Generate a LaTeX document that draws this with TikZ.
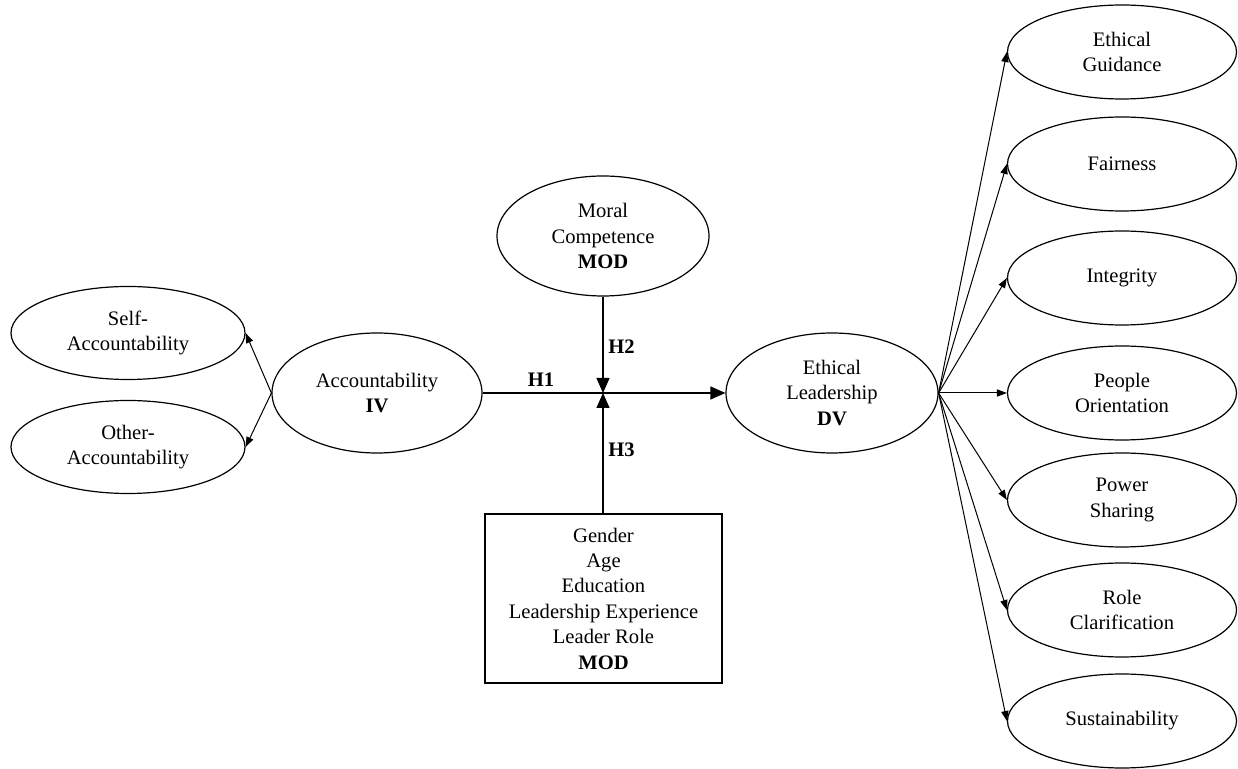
\documentclass[tikz,border=0pt]{standalone}
\usepackage{fontspec}
\setmainfont{Liberation Serif}
\usetikzlibrary{shapes.geometric,arrows.meta}
\begin{document}
\begin{tikzpicture}[x=0.5pt,y=-0.5pt,
  every node/.style={font=\fontsize{10.3}{12.7}\selectfont, align=center, inner sep=0pt},
  oval/.style={draw, ellipse, line width=0.6pt},
  leftoval/.style={oval, minimum width=117pt, minimum height=46.5pt},
  rightoval/.style={oval, minimum width=114.5pt, minimum height=47pt},
  bigoval/.style={oval, minimum width=106pt, minimum height=60pt},
  bigarr/.style={line width=0.6pt, -{Triangle[length=7.5pt,width=6.5pt]}},
  smallarr/.style={line width=0.5pt, -{Triangle[length=5pt,width=3.6pt]}},
  hlabel/.style={font=\fontsize{10.3}{12.7}\selectfont\bfseries}
]
\useasboundingbox (0,0) rectangle (1238,769);

\node[leftoval] (self) at (128,333) {Self-\\Accountability};
\node[leftoval] (other) at (128,447) {Other-\\Accountability};
\node[bigoval, minimum width=105pt] (acc) at (377,393) {Accountability\\\textbf{IV}};
\node[bigoval] (moral) at (603,236) {Moral\\Competence\\\textbf{MOD}};
\node[bigoval] (el) at (832,393) {Ethical\\Leadership\\\textbf{DV}};
\node[draw, line width=0.6pt, minimum width=118.5pt, minimum height=84.5pt] (box) at (603.5,598.5)
  {Gender\\Age\\Education\\Leadership Experience\\Leader Role\\\textbf{MOD}};

\node[rightoval] (eg) at (1122,52) {Ethical\\Guidance};
\node[rightoval] (fa) at (1122,164) {Fairness};
\node[rightoval] (in) at (1122,278) {Integrity};
\node[rightoval] (po) at (1122,393) {People\\Orientation};
\node[rightoval] (ps) at (1122,500) {Power\\Sharing};
\node[rightoval] (rc) at (1122,610) {Role\\Clarification};
\node[rightoval] (su) at (1122,721) {Sustainability};

\coordinate (j) at (603,393);

\draw[smallarr] (acc.west) -- (self.east);
\draw[smallarr] (acc.west) -- (other.east);

\draw[bigarr] (acc.east) -- (el.west);
\draw[bigarr] (moral.south) -- (j);
\draw[bigarr] (box.north -| j) -- (j);

\node[hlabel] (h1) at (541,380) {H1};
\node[hlabel, anchor=west] (h2) at (608,347) {H2};
\node[hlabel, anchor=west] (h3) at (608,450) {H3};

\foreach \t in {eg,fa,in,po,ps,rc,su}
  \draw[smallarr] (el.east) -- (\t.west);
\end{tikzpicture}
\end{document}
